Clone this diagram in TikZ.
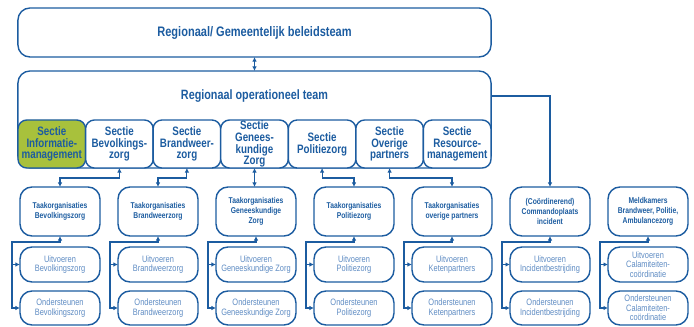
\documentclass[tikz,border=0pt]{standalone}
\usepackage{fontspec}
\setmainfont{Liberation Sans}[FakeStretch=0.8]
\usetikzlibrary{arrows.meta}
\definecolor{rotblue}{RGB}{28,92,160}
\definecolor{subblue}{RGB}{95,140,195}
\definecolor{infogreen}{RGB}{168,193,60}

\begin{document}
\begin{tikzpicture}[x=0.025cm, y=-0.025cm,
	box/.style = {draw=rotblue, line width=1pt, rounded corners=0.3cm, align=center, inner sep=0pt, outer sep=0pt, text=rotblue},
	sectie/.style = {box, rounded corners=0.22cm, fill=white, minimum width=1.689cm, minimum height=1.2cm, font=\bfseries\fontsize{8.7}{8.4}\selectfont},
	taak/.style = {box, minimum width=2cm, minimum height=1.225cm, font=\bfseries\fontsize{6}{7}\selectfont},
	uitv/.style = {box, text=subblue, minimum width=2cm, minimum height=0.875cm, font=\fontsize{6.6}{6.8}\selectfont},
	onder/.style = {uitv, minimum height=0.85cm},
	duo/.style = {draw=rotblue, line width=0.75pt, {Latex[length=3.2pt,width=3.2pt]}-{Latex[length=3.2pt,width=3.2pt]}},
	feed/.style = {draw=rotblue, line width=0.75pt, -{Latex[length=3.2pt,width=3.2pt]}}]
	\useasboundingbox (0,0) rectangle (694,327);
	% beleidsteam en operationeel team
	\node[box, minimum width=11.825cm, minimum height=1.225cm, font=\bfseries\fontsize{9.8}{10}\selectfont] (bt) at (254.5,32.5) {Regionaal/ Gemeentelijk beleidsteam};
	\node[box, minimum width=11.825cm, minimum height=2.425cm] (rot) at (254.5,119.5) {};
	\node[text=rotblue, font=\bfseries\fontsize{9.6}{10}\selectfont] (rottitle) at (254.5,96) {Regionaal operationeel team};
	% secties
	\node[sectie, fill=infogreen] (sinfo) at (51.8,144) {Sectie\\Informatie-\\management};
	\node[sectie] (sbev) at (119.4,144) {Sectie\\Bevolkings-\\zorg}; \node[sectie] (sbrw) at (186.9,144) {Sectie\\Brandweer-\\zorg};
	\node[sectie] (sghz) at (254.5,144) {Sectie\\Genees-\\kundige\\Zorg}; \node[sectie] (spol) at (322.1,144) {Sectie\\Politiezorg};
	\node[sectie] (sovp) at (389.6,144) {Sectie\\Overige\\partners}; \node[sectie] (sres) at (457.2,144) {Sectie\\Resource-\\management};
	% taakorganisaties
	\node[taak] (tbev) at (60,211.5) {Taakorganisaties\\Bevolkingszorg}; \node[taak] (tbrw) at (158,211.5) {Taakorganisaties\\Brandweerzorg};
	\node[taak] (tghz) at (256,211.5) {Taakorganisaties\\Geneeskundige\\Zorg}; \node[taak] (tpol) at (354,211.5) {Taakorganisaties\\Politiezorg};
	\node[taak] (tovp) at (452,211.5) {Taakorganisaties\\overige partners}; \node[taak] (tcpi) at (550,211.5) {(Coördinerend)\\Commandoplaats\\incident};
	\node[taak] (tmk) at (648,211.5) {Meldkamers\\Brandweer, Politie,\\Ambulancezorg};
	% uitvoeren
	\node[uitv] (ubev) at (60,264.5) {Uitvoeren\\Bevolkingszorg}; \node[uitv] (ubrw) at (158,264.5) {Uitvoeren\\Brandweerzorg};
	\node[uitv] (ughz) at (256,264.5) {Uitvoeren\\Geneeskundige Zorg}; \node[uitv] (upol) at (354,264.5) {Uitvoeren\\Politiezorg};
	\node[uitv] (uovp) at (452,264.5) {Uitvoeren\\Ketenpartners}; \node[uitv] (ucpi) at (550,264.5) {Uitvoeren\\Incidentbestrijding};
	\node[uitv] (umk) at (648,264.5) {Uitvoeren\\Calamiteiten-\\coördinatie};
	% ondersteunen
	\node[onder] (obev) at (60,308) {Ondersteunen\\Bevolkingszorg}; \node[onder] (obrw) at (158,308) {Ondersteunen\\Brandweerzorg};
	\node[onder] (oghz) at (256,308) {Ondersteunen\\Geneeskundige Zorg}; \node[onder] (opol) at (354,308) {Ondersteunen\\Politiezorg};
	\node[onder] (oovp) at (452,308) {Ondersteunen\\Ketenpartners}; \node[onder] (ocpi) at (550,308) {Ondersteunen\\Incidentbestrijding};
	\node[onder] (omk) at (648,308) {Ondersteunen\\Calamiteiten-\\coördinatie};
	% verbindingen
	\draw[duo] (bt) -- (rot);
	\draw[feed] (rottitle -| rot.east) -| (tcpi.north);
	\draw[duo] (sbev.south) -- ++(0,10) -| (tbev.north); \draw[duo] (sbrw.south) -- ++(0,10) -| (tbrw.north);
	\draw[duo] (sghz.south) -- (sghz.south |- tghz.north);
	\draw[duo] (spol.south) -- ++(0,10) -| (tpol.north); \draw[duo] (sovp.south) -- ++(0,10) -| (tovp.north);
	\foreach \c in {bev, brw, ghz, pol, ovp, cpi, mk} {
		\draw[duo] (t\c.south) -- ++(0,6) -| ([xshift=-0.2cm]u\c.west) |- (o\c.west);
		\draw[feed] ([xshift=-0.2cm]u\c.west) -- (u\c.west);
	}
\end{tikzpicture}
\end{document}
